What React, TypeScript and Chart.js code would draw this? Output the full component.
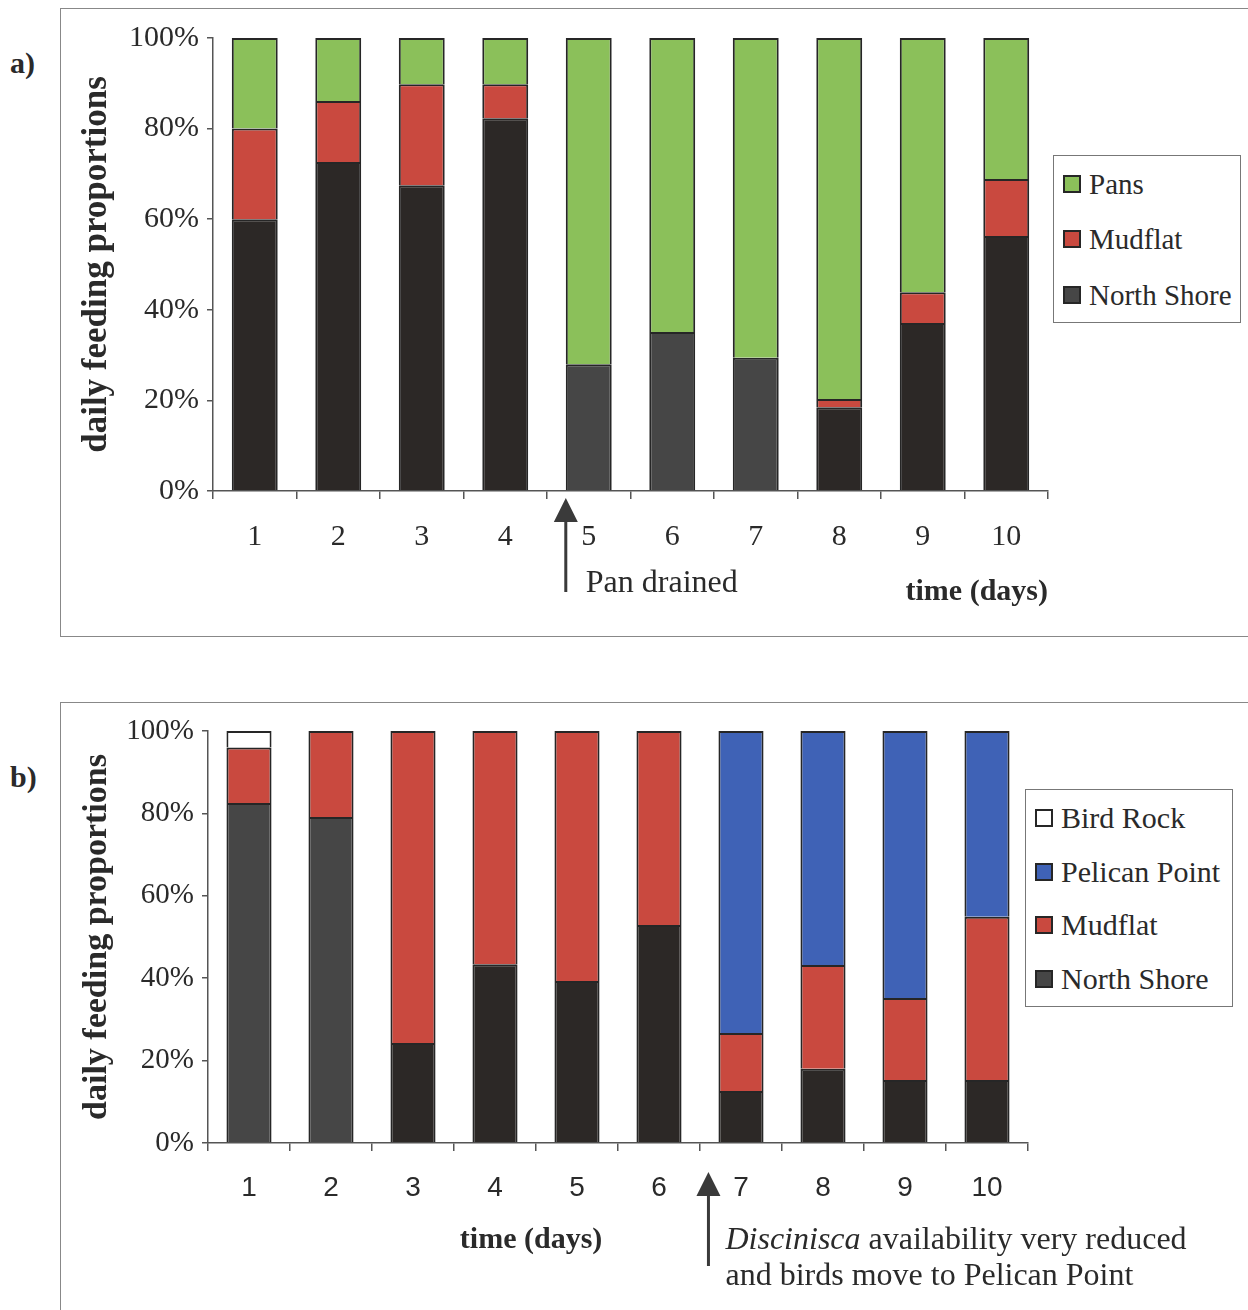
import React, { useEffect, useRef } from "react";
import { Chart, registerables } from "chart.js";

Chart.register(...registerables);

const SERIF = "'Liberation Serif', 'Times New Roman', serif";
const SANS = "'Liberation Sans', Arial, sans-serif";

// ---------- data ----------
const days = ["1", "2", "3", "4", "5", "6", "7", "8", "9", "10"];
const yTicks = [0, 20, 40, 60, 80, 100];

// panel a
const aNorthShore = [60, 72.6, 67.5, 82.3, 28, 35.1, 29.4, 18.5, 37.1, 56.3];
const aMudflat = [20, 13.5, 22.3, 7.5, 0, 0, 0, 1.8, 6.8, 12.6];
const aPans = [20, 13.9, 10.2, 10.2, 72, 64.9, 70.6, 79.7, 56.1, 31.1];

// panel b
const bNorthShore = [82.5, 79.1, 24.3, 43.4, 39.3, 52.9, 12.6, 18, 15.3, 15.3];
const bMudflat = [13.5, 20.9, 75.7, 56.6, 60.7, 47.1, 14.1, 25.2, 19.9, 39.6];
const bPelican = [0, 0, 0, 0, 0, 0, 73.3, 56.8, 64.8, 45.1];
const bBirdRock = [4, 0, 0, 0, 0, 0, 0, 0, 0, 0];

// ---------- styles ----------
const GREEN = "#8bc05a";
const RED = "#c9493f";
const BLUE = "#3f62b6";
const DARK = "#2c2826";
const GRAY = "#464646";
const EDGE = "#262626";
const AXIS = "#555555";
const TEXT = "#2a2a2a";

const nz = (arr: number[]) => arr.map((v) => (v === 0 ? null : v));

function ds(label: string, data: number[], color: any) {
  return {
    label,
    data: nz(data),
    backgroundColor: color,
    borderColor: EDGE,
    borderWidth: 2,
    barPercentage: 0.55,
    categoryPercentage: 1,
  };
}

function drawArrow(ctx: CanvasRenderingContext2D, x: number, tip: number, base: number, end: number) {
  ctx.save();
  ctx.fillStyle = "#3a3a3a";
  ctx.beginPath();
  ctx.moveTo(x, tip);
  ctx.lineTo(x - 12, base);
  ctx.lineTo(x + 12, base);
  ctx.closePath();
  ctx.fill();
  ctx.fillRect(x - 1.5, base - 1, 3, end - base + 1);
  ctx.restore();
}

function baseOptions(opts: {
  padding: any;
  yWidth: number;
  xHeight: number;
  yTitleSize: number;
  yTitlePad: number;
  yTickSize: number;
  xTickFont: string;
  xTickSize: number;
  xTitle: any;
}) {
  return {
    responsive: false,
    animation: false as const,
    layout: { padding: opts.padding },
    plugins: { legend: { display: false }, tooltip: { enabled: false } },
    scales: {
      x: {
        stacked: true,
        afterFit: (s: any) => {
          s.height = opts.xHeight;
        },
        grid: {
          offset: true,
          drawOnChartArea: false,
          drawTicks: true,
          tickLength: 8,
          color: AXIS,
          lineWidth: 1.5,
        },
        border: { display: true, color: AXIS, width: 1.5 },
        ticks: {
          color: TEXT,
          padding: 20,
          font: { family: opts.xTickFont, size: opts.xTickSize },
          maxRotation: 0,
        },
        title: opts.xTitle,
      },
      y: {
        stacked: true,
        min: 0,
        max: 100,
        afterFit: (s: any) => {
          s.width = opts.yWidth;
        },
        afterBuildTicks: (s: any) => {
          s.ticks = yTicks.map((v) => ({ value: v }));
        },
        grid: {
          drawOnChartArea: false,
          drawTicks: true,
          tickLength: 6,
          color: AXIS,
          lineWidth: 1.5,
        },
        border: { display: true, color: AXIS, width: 1.5 },
        ticks: {
          color: TEXT,
          padding: 8,
          font: { family: SERIF, size: opts.yTickSize },
          callback: (v: any) => v + "%",
        },
        title: {
          display: true,
          text: "daily feeding proportions",
          color: TEXT,
          font: { family: SERIF, size: opts.yTitleSize, weight: "bold" },
          padding: { top: opts.yTitlePad, bottom: 0 },
        },
      },
    },
  };
}

const annotA = {
  id: "annotA",
  afterDraw(chart: any) {
    const ctx: CanvasRenderingContext2D = chart.ctx;
    const bar = chart.getDatasetMeta(0).data[4];
    const x = bar.x - bar.width / 2;
    const axisY = chart.chartArea.bottom;
    drawArrow(ctx, x, axisY + 7, axisY + 31, axisY + 101);
    ctx.save();
    ctx.fillStyle = TEXT;
    ctx.font = `32px ${SERIF}`;
    ctx.textBaseline = "alphabetic";
    ctx.textAlign = "left";
    ctx.fillText("Pan drained", x + 20, axisY + 101);
    ctx.restore();
  },
};

const annotB = {
  id: "annotB",
  afterDraw(chart: any) {
    const ctx: CanvasRenderingContext2D = chart.ctx;
    const bar = chart.getDatasetMeta(0).data[6];
    const x = bar.x - bar.width / 2 - 10;
    const axisY = chart.chartArea.bottom;
    drawArrow(ctx, x, axisY + 29, axisY + 53, axisY + 123);
    ctx.save();
    ctx.fillStyle = TEXT;
    ctx.textBaseline = "alphabetic";
    ctx.textAlign = "left";
    const tx = x + 17;
    ctx.font = `italic 32px ${SERIF}`;
    ctx.fillText("Discinisca", tx, axisY + 106);
    const w = ctx.measureText("Discinisca").width;
    ctx.font = `32px ${SERIF}`;
    ctx.fillText(" availability very reduced", tx + w, axisY + 106);
    ctx.fillText("and birds move to Pelican Point", tx, axisY + 142);
    // x-axis title
    const xs = chart.scales.x;
    ctx.font = `bold 30px ${SERIF}`;
    ctx.textAlign = "center";
    ctx.textBaseline = "middle";
    ctx.fillText("time (days)", xs.left + 0.394 * (xs.right - xs.left), axisY + 97);
    ctx.restore();
  },
};

function LegendBox(props: {
  left: number;
  top: number;
  width: number;
  height: number;
  fontSize: number;
  items: { label: string; color: string; y: number }[];
}) {
  return (
    <div
      style={{
        position: "absolute",
        left: props.left,
        top: props.top,
        width: props.width,
        height: props.height,
        border: "1px solid #777",
        background: "#fff",
        boxSizing: "border-box",
      }}
    >
      {props.items.map((it) => (
        <div key={it.label} style={{ position: "absolute", left: 9, top: it.y - 16, height: 32, display: "flex", alignItems: "center" }}>
          <div style={{ width: 18, height: 18, background: it.color, border: `2px solid ${EDGE}`, boxSizing: "border-box" }} />
          <span style={{ marginLeft: 8, fontFamily: SERIF, fontSize: props.fontSize, color: TEXT, whiteSpace: "nowrap" }}>{it.label}</span>
        </div>
      ))}
    </div>
  );
}

export default function App() {
  const refA = useRef<HTMLCanvasElement>(null);
  const refB = useRef<HTMLCanvasElement>(null);

  useEffect(() => {
    const nsColorsA = days.map((_, i) => (i >= 4 && i <= 6 ? GRAY : DARK));
    const chartA = new Chart(refA.current!, {
      type: "bar",
      data: {
        labels: days,
        datasets: [ds("North Shore", aNorthShore, nsColorsA), ds("Mudflat", aMudflat, RED), ds("Pans", aPans, GREEN)],
      },
      options: baseOptions({
        padding: { left: 70, right: 200, top: 38, bottom: 29 },
        yWidth: 143,
        xHeight: 120,
        yTitleSize: 35,
        yTitlePad: 6,
        yTickSize: 30,
        xTickFont: SERIF,
        xTickSize: 30,
        xTitle: {
          display: true,
          text: "time (days)",
          align: "end",
          color: TEXT,
          font: { family: SERIF, size: 30, weight: "bold" },
          padding: { top: 0, bottom: 1 },
        },
      }) as any,
      plugins: [annotA],
    });

    const nsColorsB = days.map((_, i) => (i <= 1 ? GRAY : DARK));
    const chartB = new Chart(refB.current!, {
      type: "bar",
      data: {
        labels: days,
        datasets: [
          ds("North Shore", bNorthShore, nsColorsB),
          ds("Mudflat", bMudflat, RED),
          ds("Pelican Point", bPelican, BLUE),
          ds("Bird Rock", bBirdRock, "#ffffff"),
        ],
      },
      options: baseOptions({
        padding: { left: 70, right: 220, top: 31, bottom: 47 },
        yWidth: 138,
        xHeight: 120,
        yTitleSize: 34,
        yTitlePad: 7,
        yTickSize: 29,
        xTickFont: SANS,
        xTickSize: 28,
        xTitle: { display: false },
      }) as any,
      plugins: [annotB],
    });

    return () => {
      chartA.destroy();
      chartB.destroy();
    };
  }, []);

  const label = (t: string, left: number, top: number) => (
    <div style={{ position: "absolute", left, top, fontFamily: SERIF, fontWeight: "bold", fontSize: 30, color: TEXT, lineHeight: "30px" }}>{t}</div>
  );

  return (
    <div style={{ position: "absolute", left: 0, top: 0, width: 1248, height: 1310, overflow: "hidden", background: "#fff" }}>
      <div style={{ position: "absolute", left: 60, top: 8, width: 1200, height: 629, border: "1px solid #888", boxSizing: "border-box" }} />
      <div style={{ position: "absolute", left: 60, top: 702, width: 1200, height: 640, border: "1px solid #888", boxSizing: "border-box" }} />
      {label("a)", 10, 48)}
      {label("b)", 10, 762)}
      <canvas ref={refA} width={1248} height={640} style={{ position: "absolute", left: 0, top: 0 }} />
      <canvas ref={refB} width={1248} height={610} style={{ position: "absolute", left: 0, top: 700 }} />
      <LegendBox
        left={1053}
        top={155}
        width={188}
        height={168}
        fontSize={29}
        items={[
          { label: "Pans", color: GREEN, y: 28 },
          { label: "Mudflat", color: RED, y: 83 },
          { label: "North Shore", color: GRAY, y: 139 },
        ]}
      />
      <LegendBox
        left={1025}
        top={789}
        width={208}
        height={218}
        fontSize={30}
        items={[
          { label: "Bird Rock", color: "#ffffff", y: 28 },
          { label: "Pelican Point", color: BLUE, y: 82 },
          { label: "Mudflat", color: RED, y: 135 },
          { label: "North Shore", color: GRAY, y: 189 },
        ]}
      />
    </div>
  );
}
